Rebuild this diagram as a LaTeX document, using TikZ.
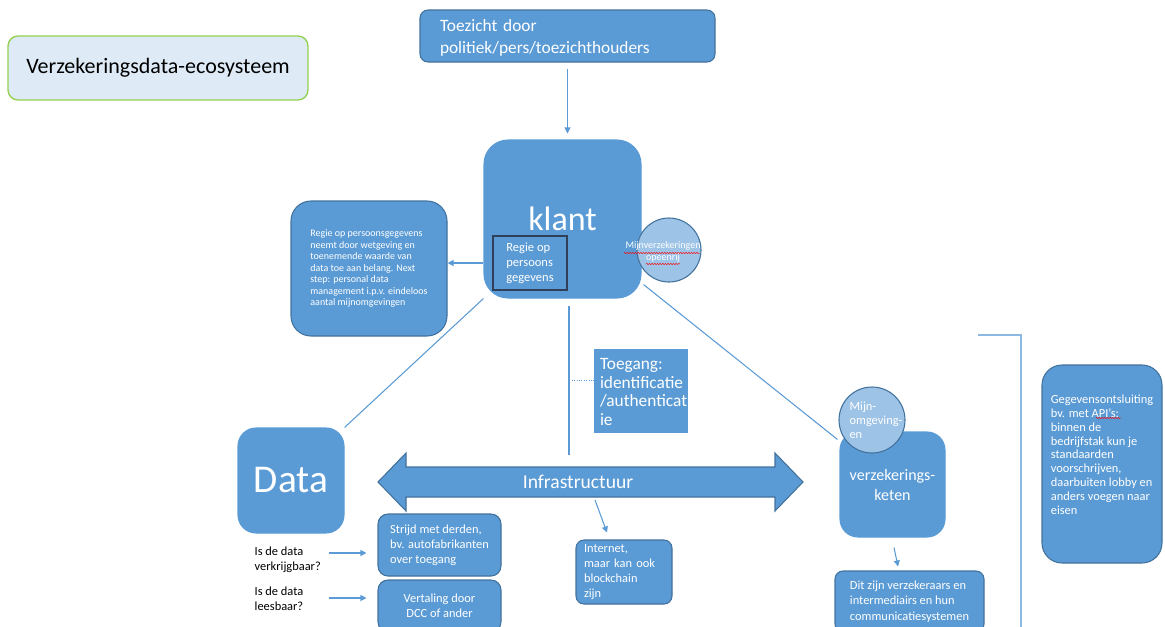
\documentclass[tikz,border=0pt]{standalone}
\usepackage{fontspec}
\setmainfont{Carlito}
\usepackage{xcolor}
\usetikzlibrary{positioning, calc, arrows.meta, decorations.pathmorphing}

\definecolor{boxblue}{HTML}{5B9BD5}
\definecolor{boxline}{HTML}{41719C}
\definecolor{lightblue}{HTML}{9DC3E6}
\definecolor{titlefill}{HTML}{DEEBF7}
\definecolor{titleline}{HTML}{92D050}
\definecolor{innerline}{HTML}{2F4058}

\begin{document}
\begin{tikzpicture}[x=0.75pt, y=-0.75pt,
        blok/.style={draw=boxline, line width=0.8pt, fill=boxblue, text=white, inner sep=0pt, align=left},
        vlak/.style={blok, draw=boxblue},
        kring/.style={circle, draw=boxline, line width=0.8pt, fill=lightblue, inner sep=0pt},
        lijn/.style={draw=boxblue, line width=0.8pt},
        pijl/.style={lijn, -{Triangle[width=4.5pt, length=4.5pt]}},
        golf/.style={draw=red, line width=0.3pt, decorate, decoration={snake, amplitude=0.5pt, segment length=2pt}},
        klein/.style={font=\fontsize{9.3}{11.4}\selectfont}]
        \useasboundingbox (0,0) rectangle (1165,626);
        \clip (0,0) rectangle (1165,626);

        \node[draw=titleline, line width=1pt, fill=titlefill, rounded corners=7.5pt, minimum width=225pt, minimum height=48pt, font=\fontsize{16.5}{20}\selectfont] (titel) at (158,68) {Verzekeringsdata-ecosysteem};
        \node[blok, rounded corners=6pt, minimum width=221.25pt, minimum height=39pt,
            label={[text=white, align=left, text width=191.25pt, yshift=-1.5pt, font=\fontsize{13}{16}\selectfont]center:Toezicht door\\politiek/pers/toezichthouders}] (toezicht) at (567.5,36) {};

        \node[blok, rounded corners=15pt, minimum width=117pt, minimum height=101.25pt, font=\fontsize{7.5}{8.6}\selectfont] (persbox) at (369,268.5) {Regie op persoonsgegevens\\neemt door wetgeving en\\toenemende waarde van\\data toe aan belang. Next\\step: personal data\\management i.p.v. eindeloos\\aantal mijnomgevingen};
        \node[vlak, rounded corners=18pt, minimum width=117.75pt, minimum height=118.5pt, font=\fontsize{25.5}{30}\selectfont] (klant) at (562.5,219) {klant};
        \node[blok, draw=innerline, line width=1pt, minimum width=55.5pt, minimum height=40.5pt, font=\fontsize{9.4}{11.1}\selectfont] (regie) at (530,263) {Regie op\\persoons\\gegevens};
        \node[kring, minimum size=48pt, label={[text=white, align=center, xshift=-4.5pt, yshift=-1.5pt, font=\fontsize{7.5}{8.5}\selectfont]center:Mijnverzekeringen\\opeenrij}] (mijnverz) at (669,250) {};

        \node[vlak, minimum width=69pt, minimum height=61.5pt,
            label={[text=white, align=left, text width=60pt, xshift=-0.75pt, yshift=-0.75pt, font=\fontsize{13}{14}\selectfont]center:Toegang:\\identificatie\\/authenticat\\ie}] (toegang) at (641,391) {};
        \coordinate (stam) at (569,455);

        \node[vlak, rounded corners=13.5pt, minimum width=79.5pt, minimum height=78.75pt, font=\fontsize{29.5}{34}\selectfont] (data) at (291,480.5) {Data};

        % brede pijl infrastructuur
        \draw[fill=boxblue, draw=boxline, line width=0.8pt] (378,482) -- (406,453) -- (406,467) -- (775,467) -- (775,453) -- (803,482)
            -- (775,511) -- (775,497) -- (406,497) -- (406,511) -- cycle;
        \node[text=white, font=\fontsize{14.7}{17}\selectfont] (infra) at (578,482) {Infrastructuur};
        \coordinate (infravoet) at (595,500);

        \node[vlak, rounded corners=13.5pt, minimum width=78.75pt, minimum height=78.75pt, align=center, font=\fontsize{12}{15}\selectfont] (keten) at (892.5,484.5) {verzekerings-\\keten};
        \node[kring, minimum size=49.5pt, label={[text=white, align=left, xshift=3pt, font=\fontsize{9.3}{10.6}\selectfont]center:Mijn-\\omgeving-\\en}] (mijnomg) at (872,420) {};

        \node[blok, rounded corners=7.5pt, minimum width=92.25pt, minimum height=46.5pt, klein] (strijd) at (439.5,545) {Strijd met derden,\\bv. autofabrikanten\\over toegang};
        \node[blok, rounded corners=7.5pt, minimum width=92.25pt, minimum height=39pt, align=center, klein] (vertaling) at (439.5,606) {Vertaling door\\DCC of ander};
        \node[blok, rounded corners=6pt, minimum width=72pt, minimum height=48pt, text width=60pt, inner xsep=6pt, klein] (internet) at (624,572) {Internet,\\maar kan ook\\blockchain\\zijn};
        \node[blok, rounded corners=6pt, minimum width=111.75pt, minimum height=45.75pt, klein] (dit) at (909.5,601.5) {Dit zijn verzekeraars en\\intermediairs en hun\\communicatiesystemen};
        \node[blok, rounded corners=15pt, minimum width=90pt, minimum height=148.5pt, label={[text=white, align=left, yshift=7pt, font=\fontsize{9.3}{10.4}\selectfont]center:Gegevensontsluiting\\bv. met API’s:\\binnen de\\bedrijfstak kun je\\standaarden\\voorschrijven,\\daarbuiten lobby en\\anders voegen naar\\eisen}] (api) at (1102,464) {};

        \node[anchor=west, align=left, klein] (q1) at (250,560) {Is de data\\verkrijgbaar?};
        \node[anchor=west, align=left, klein] (q2) at (250,599) {Is de data\\leesbaar?};

        \draw[pijl, shorten <=4.5pt, shorten >=4.5pt] (toezicht.south) -- (toezicht.south |- klant.north);
        \draw[pijl] (klant.west |- regie.west) -- (persbox.east |- regie.west);
        \draw[lijn] (klant.south west) -- (data.north east);
        \draw[lijn] ($(klant.south east)+(2,-14)$) -- ($(keten.north west)+(-2,8)$);
        \draw[lijn] ($(klant.south -| stam)+(0,7)$) -- (stam);
        \draw[lijn, densely dotted, line width=0.5pt] ($(toegang.west)+(0,-11)$) -- ($(stam |- toegang.west)+(0,-11)$);
        \draw[pijl] (infravoet) -- ($(internet.north)+(-17,-7)$);
        \draw[pijl] ($(keten.south)+(1.5,10)$) -- ($(dit.north)+(-11.5,-4)$);
        \draw[pijl] ($(q1.east)+(4,-7)$) -- ($(strijd.west |- q1.east)+(-11,-7)$);
        \draw[pijl] ($(q1.east |- q2.east)+(4,-1)$) -- ($(vertaling.west |- q2.east)+(-11,-1)$);
        \draw[lijn, draw=boxblue!70] (978,335) -- (1021,335) -- (1021,630);

        \draw[golf] (624,253) -- (700,253);
        \draw[golf] (646,264) -- (680,264);
        \draw[golf] (1096,418) -- (1121,418);
\end{tikzpicture}
\end{document}
